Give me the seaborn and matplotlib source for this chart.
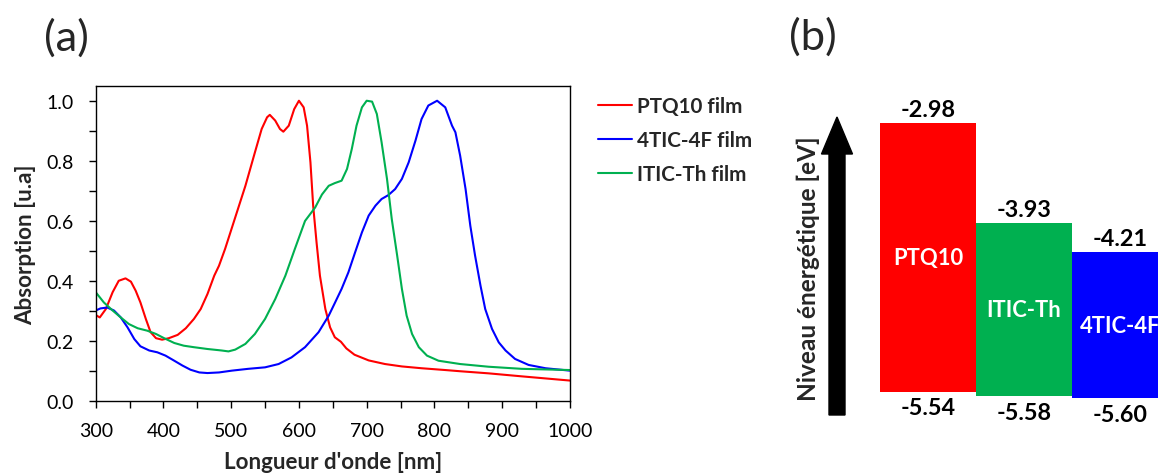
import matplotlib
matplotlib.use("Agg")
import matplotlib.pyplot as plt
from matplotlib.patches import FancyArrow
from matplotlib.transforms import IdentityTransform
from matplotlib.ticker import MultipleLocator, FormatStrFormatter
import seaborn as sns
import pandas as pd

# ---------------- data: absorption spectra ----------------
ptq10_x = [300, 306, 315, 325, 334, 344, 352, 359, 366, 374, 381, 389, 398, 408, 421,
           433, 445, 455, 465, 475, 482, 491, 506, 521, 535, 545, 553, 557, 565, 572,
           577, 585, 593, 600, 607, 612, 617, 621, 626, 631, 639, 646, 653, 662,
           670, 682, 703, 727, 752, 781, 816, 838, 880, 929, 1000]
ptq10_y = [0.287, 0.279, 0.307, 0.363, 0.401, 0.409, 0.398, 0.368, 0.329, 0.274, 0.230,
           0.210, 0.205, 0.210, 0.221, 0.243, 0.274, 0.307, 0.357, 0.418, 0.451, 0.507,
           0.612, 0.717, 0.828, 0.906, 0.945, 0.953, 0.934, 0.906, 0.897, 0.917, 0.972,
           1.000, 0.978, 0.917, 0.795, 0.651, 0.529, 0.418, 0.307, 0.246, 0.213, 0.198,
           0.176, 0.155, 0.136, 0.124, 0.116, 0.110, 0.104, 0.100, 0.093, 0.083, 0.069]

f4tic_x = [300, 307, 317, 327, 337, 347, 357, 366, 379, 391, 403, 416, 428, 440, 453,
           465, 482, 501, 525, 550, 570, 589, 609, 629, 644, 653, 663, 673, 683, 693,
           703, 713, 722, 732, 742, 752, 762, 772, 781, 791, 804, 816, 826, 831, 838,
           846, 853, 860, 868, 875, 885, 895, 905, 919, 939, 964, 1000]
f4tic_y = [0.302, 0.309, 0.312, 0.302, 0.279, 0.246, 0.207, 0.183, 0.169, 0.163, 0.152,
           0.135, 0.119, 0.105, 0.096, 0.094, 0.096, 0.102, 0.108, 0.113, 0.124, 0.146,
           0.180, 0.230, 0.285, 0.327, 0.374, 0.429, 0.496, 0.562, 0.618, 0.651, 0.673,
           0.686, 0.706, 0.740, 0.795, 0.867, 0.939, 0.984, 1.000, 0.978, 0.917, 0.895,
           0.817, 0.706, 0.584, 0.485, 0.385, 0.307, 0.241, 0.196, 0.169, 0.141, 0.121,
           0.110, 0.102]

itic_x = [300, 312, 325, 337, 349, 362, 376, 389, 401, 416, 430, 445, 465, 482, 486,
          496, 506, 521, 535, 550, 565, 580, 594, 609, 624, 634, 644, 653, 663, 671,
          678, 685, 693, 700, 708, 715, 722, 730, 737, 745, 752, 759, 767, 777, 789,
          806, 838, 880, 929, 1000]
itic_y = [0.363, 0.329, 0.302, 0.279, 0.257, 0.243, 0.235, 0.224, 0.210, 0.194, 0.185,
          0.180, 0.174, 0.170, 0.169, 0.166, 0.172, 0.191, 0.224, 0.274, 0.340, 0.418,
          0.507, 0.600, 0.645, 0.688, 0.717, 0.726, 0.734, 0.773, 0.839, 0.917, 0.978,
          1.000, 0.997, 0.956, 0.862, 0.740, 0.607, 0.485, 0.374, 0.285, 0.224, 0.180,
          0.152, 0.135, 0.124, 0.115, 0.108, 0.104]

series_names = ["PTQ10 film", "4TIC-4F film", "ITIC-Th film"]
series_colors = ["#FF0000", "#0000FF", "#00B050"]

# ---------------- data: energy levels ----------------
materials = ["PTQ10", "ITIC-Th", "4TIC-4F"]
lumo = [-2.98, -3.93, -4.21]
homo = [-5.54, -5.58, -5.60]
mat_colors = ["#FF0000", "#00B050", "#0000FF"]

# ---------------- figure ----------------
sns.set_theme(style="white")
FAM = ["Lato", "DejaVu Sans"]
plt.rcParams["font.family"] = FAM
W, H = 1158, 477
fig = plt.figure(figsize=(W / 100, H / 100), dpi=100)
renderer = fig.canvas.get_renderer()


def fit_size(s, target_px, weight="normal"):
    t = fig.text(0, 0, s, fontsize=10, fontweight=weight)
    w = t.get_window_extent(renderer=renderer).width
    t.remove()
    return 10 * target_px / w


def px_rect(l, t, r, b):
    return [l / W, 1 - b / H, (r - l) / W, (b - t) / H]


tick_fs = fit_size("1000", 45)
axlab_fs = fit_size("Absorption [u.a]", 160, "bold")
leg_fs = fit_size("PTQ10 film", 106, "bold")
panel_fs = fit_size("(a)", 45)
val_fs = fit_size("-2.98", 55, "bold")
barlab_fs = fit_size("PTQ10", 70, "bold")
ylab_b_fs = fit_size("Niveau énergétique [eV]", 265, "bold")

# ---- panel (a)
AL, AT, AR, AB = 95.7, 87, 569.9, 402.3
ax = fig.add_axes(px_rect(AL, AT, AR, AB))
frames = []
for n, xs, ys in [(series_names[0], ptq10_x, ptq10_y),
                  (series_names[1], f4tic_x, f4tic_y),
                  (series_names[2], itic_x, itic_y)]:
    frames.append(pd.DataFrame({"x": xs, "y": ys, "s": n}))
df = pd.concat(frames, ignore_index=True)
sns.lineplot(data=df, x="x", y="y", hue="s", hue_order=series_names,
             palette=series_colors, linewidth=1.5, ax=ax, sort=False)
ax.set_xlim(300, 1000)
ax.set_ylim(0, 1.049)
ax.xaxis.set_major_locator(MultipleLocator(100))
ax.xaxis.set_minor_locator(MultipleLocator(50))
ax.yaxis.set_major_locator(MultipleLocator(0.2))
ax.yaxis.set_minor_locator(MultipleLocator(0.1))
ax.yaxis.set_major_formatter(FormatStrFormatter("%.1f"))
ax.tick_params(which="both", direction="out", length=5, width=1, color="black",
               bottom=True, left=True, labelsize=tick_fs, labelcolor="black")
ax.tick_params(axis="x", which="major", pad=10)
ax.tick_params(axis="y", which="major", pad=11)
for sp in ax.spines.values():
    sp.set_color("black")
    sp.set_linewidth(1.0)
ax.set_xlabel("Longueur d'onde [nm]", fontsize=axlab_fs, fontweight="bold")
ax.set_ylabel("Absorption [u.a]", fontsize=axlab_fs, fontweight="bold")
ax.xaxis.set_label_coords(0.5, (AB - 463) / (AB - AT))
ax.xaxis.label.set_va("center")
ax.yaxis.set_label_coords((26 - AL) / (AR - AL), 0.5)
ax.yaxis.label.set_va("center")
ax.legend(loc="upper left", bbox_to_anchor=(598 / W, 1 - 97 / H),
          bbox_transform=fig.transFigure, frameon=False, borderpad=0,
          borderaxespad=0, prop={"weight": "bold", "size": leg_fs},
          handlelength=1.65, handletextpad=0.25, labelspacing=0.68)
fig.text(66 / W, 1 - 38 / H, "(a)", fontsize=panel_fs, ha="center", va="center")

# ---- panel (b)
bl, bt, br, bb = 780, 100, 1200, 450
axb = fig.add_axes(px_rect(bl, bt, br, bb))
unit = 96.0
axb.set_xlim(-0.5 - (880 - bl) / unit, -0.5 + (br - 880) / unit)
scale, p_mid, v_mid = 105.0, 298.3, -4.64
axb.set_ylim(v_mid - (bb - p_mid) / scale, v_mid + (p_mid - bt) / scale)
axb.axis("off")
xs = list(range(len(materials)))
heights = [l - h for l, h in zip(lumo, homo)]
axb.bar(xs, heights, bottom=homo, width=1.0, color=mat_colors, edgecolor="none")
for i, m in enumerate(materials):
    axb.annotate(f"{lumo[i]:.2f}", (xs[i], lumo[i]), xytext=(0, 2),
                 textcoords="offset points", ha="center", va="bottom",
                 fontsize=val_fs, fontweight="bold", color="black")
    axb.annotate(f"{homo[i]:.2f}", (xs[i], homo[i]), xytext=(0, -4),
                 textcoords="offset points", ha="center", va="top",
                 fontsize=val_fs, fontweight="bold", color="black")
    axb.text(xs[i], (lumo[i] + homo[i]) / 2, m, ha="center", va="center",
             fontsize=barlab_fs, fontweight="bold", color="white")

arrow = FancyArrow(837, H - 416, 0, 298, width=16, head_width=31, head_length=37,
                   length_includes_head=True, color="black",
                   transform=IdentityTransform())
fig.add_artist(arrow)
fig.text(808 / W, 1 - 269 / H, "Niveau énergétique [eV]", rotation=90,
         fontsize=ylab_b_fs, fontweight="bold", ha="center", va="center")
fig.text(813 / W, 1 - 37 / H, "(b)", fontsize=panel_fs, ha="center", va="center")

fig.savefig("out.png", dpi=100)
